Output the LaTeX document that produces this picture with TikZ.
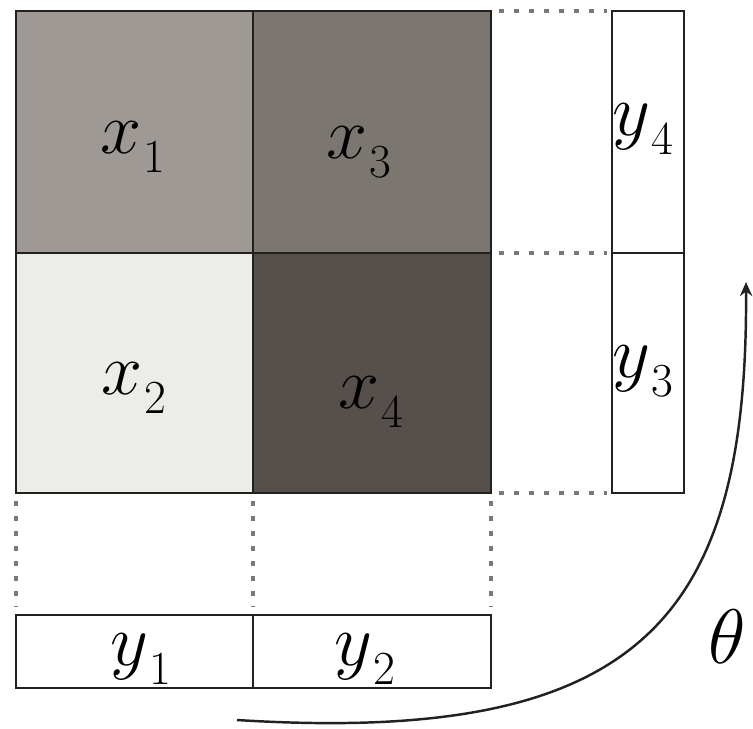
\RequirePackage{fix-cm}
\documentclass[tikz,border=0pt]{standalone}
\usetikzlibrary{arrows.meta}
\definecolor{cA}{RGB}{158,153,148}
\definecolor{cB}{RGB}{124,118,113}
\definecolor{cC}{RGB}{236,236,233}
\definecolor{cD}{RGB}{86,79,76}
\definecolor{edge}{RGB}{35,33,32}
\definecolor{dotc}{RGB}{120,120,120}
\newcommand{\lab}[2]{$#1$\kern1pt\raisebox{-11pt}{\fontsize{27}{27}\selectfont #2}}
\tikzset{
  cellline/.style={draw=edge, line width=1.6pt},
  barline/.style={draw=edge, line width=1.6pt},
  dotline/.style={draw=dotc, line width=2.6pt, dash pattern=on 3pt off 5.5pt},
  lbl/.style={inner sep=0pt, anchor=base west, font=\fontsize{42}{42}\selectfont},
  arc/.style={draw=edge, line width=1.4pt, -{Stealth[length=8pt,width=7pt]}}
}
\begin{document}
\begin{tikzpicture}[x=0.02cm,y=-0.02cm]
\useasboundingbox (0,0) rectangle (753,728);
% cells
\fill[cA] (16,11) rectangle (253,253);
\fill[cB] (253,11) rectangle (491,253);
\fill[cC] (16,253) rectangle (253,493);
\fill[cD] (253,253) rectangle (491,493);
\draw[cellline] (16,11) rectangle (491,493);
\draw[cellline] (253,11) -- (253,493);
\draw[cellline] (16,253) -- (491,253);
% right bar
\draw[barline] (612,11) rectangle (684,493);
\draw[barline] (612,253) -- (684,253);
% bottom bar
\draw[barline] (16,615) rectangle (491,688);
\draw[barline] (253,615) -- (253,688);
% dotted guides
\coordinate (h1a) at (499,11);  \coordinate (h1b) at (607,11);
\coordinate (h2a) at (499,253); \coordinate (h2b) at (607,253);
\coordinate (h3a) at (499,493); \coordinate (h3b) at (607,493);
\coordinate (v1a) at (16,501);  \coordinate (v1b) at (16,607);
\coordinate (v2a) at (253,501); \coordinate (v2b) at (253,607);
\coordinate (v3a) at (491,501); \coordinate (v3b) at (491,607);
\draw[dotline] (h1a) -- (h1b);
\draw[dotline] (h2a) -- (h2b);
\draw[dotline] (h3a) -- (h3b);
\draw[dotline] (v1a) -- (v1b);
\draw[dotline] (v2a) -- (v2b);
\draw[dotline] (v3a) -- (v3b);
% labels
\node[lbl] (x1) at (100,153) {\lab{x}{1}};
\node[lbl] (x3) at (326,158) {\lab{x}{3}};
\node[lbl] (x2) at (101,394) {\lab{x}{2}};
\node[lbl] (x4) at (338,408) {\lab{x}{4}};
\node[lbl] (y4) at (612,135) {\lab{y}{4}};
\node[lbl] (y3) at (612,377) {\lab{y}{3}};
\node[lbl] (y1) at (110,665) {\lab{y}{1}};
\node[lbl] (y2) at (334,665) {\lab{y}{2}};
\node[inner sep=0pt, font=\fontsize{44}{44}\selectfont] (th) at (727,637) {$\theta$};
% rotation arrow
\coordinate (as) at (237,720);
\coordinate (ae) at (746,282);
\draw[arc] (as) .. controls (640,745) and (748,620) .. (ae);
\end{tikzpicture}
\end{document}
